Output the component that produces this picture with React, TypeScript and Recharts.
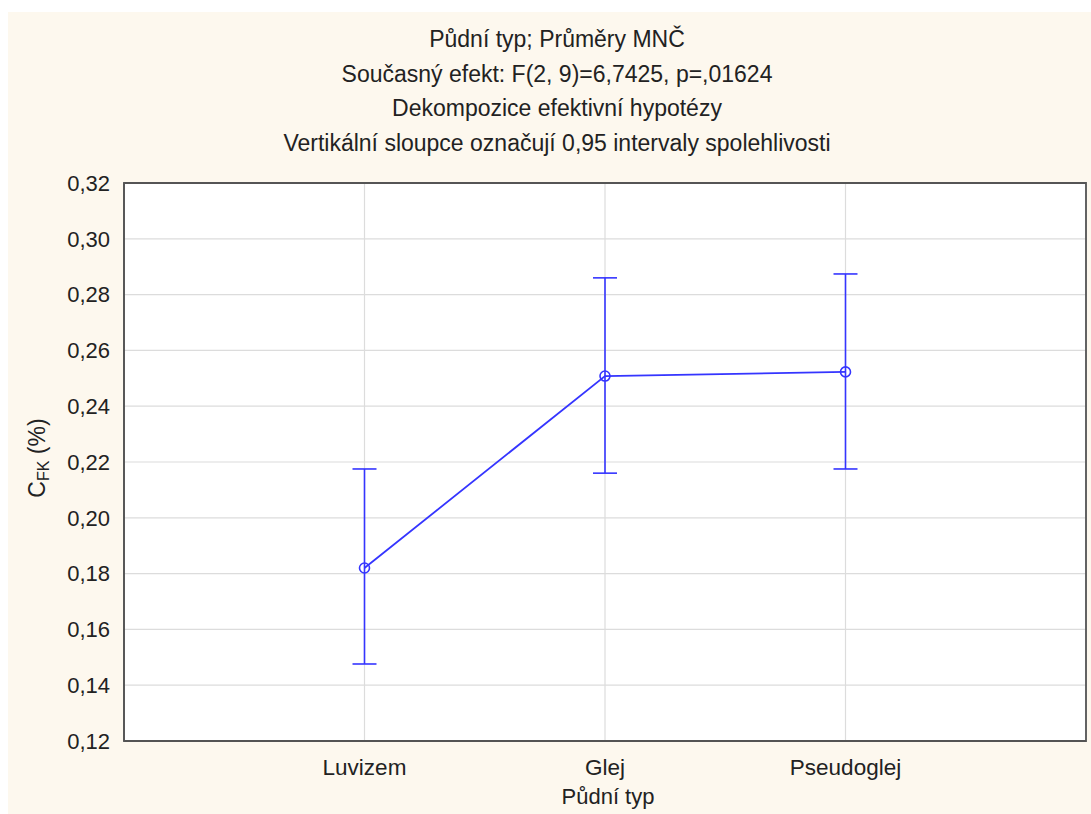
import React from "react";
import {
  ComposedChart,
  Line,
  ErrorBar,
  XAxis,
  YAxis,
  CartesianGrid,
  ReferenceArea,
} from "recharts";

const categories = ["Luvizem", "Glej", "Pseudoglej"];
const means = [0.182, 0.2508, 0.2523];
const lowerCI = [0.1476, 0.216, 0.2175];
const upperCI = [0.2175, 0.286, 0.2874];
const yTicks = [0.12, 0.14, 0.16, 0.18, 0.2, 0.22, 0.24, 0.26, 0.28, 0.3, 0.32];
const titleLines = [
  "Půdní typ; Průměry MNČ",
  "Současný efekt: F(2, 9)=6,7425, p=,01624",
  "Dekompozice efektivní hypotézy",
  "Vertikální sloupce označují 0,95 intervaly spolehlivosti",
];

const data = categories.map((name, i) => ({
  pos: i + 1,
  name,
  mean: means[i],
  ci: [means[i] - lowerCI[i], upperCI[i] - means[i]],
}));

const BLUE = "#3535ff";
const FONT = "'Liberation Sans', Arial, sans-serif";

const OpenDot = (props: any) => {
  const { cx, cy } = props;
  if (cx == null || cy == null) return null;
  return <circle cx={cx} cy={cy} r={5} fill="none" stroke={BLUE} strokeWidth={1.6} />;
};

export default function App() {
  return (
    <div
      style={{
        position: "absolute",
        left: 0,
        top: 0,
        width: 1091,
        height: 814,
        background: "#fff",
        fontFamily: FONT,
        overflow: "hidden",
      }}
    >
      <div
        style={{
          position: "absolute",
          left: 8,
          top: 12,
          width: 1083,
          height: 802,
          background: "#fdf8ee",
        }}
      />
      {titleLines.map((t, i) => (
        <div
          key={t}
          style={{
            position: "absolute",
            left: 0,
            width: 1114,
            top: 39 + i * 34.7 - 14,
            height: 28,
            lineHeight: "28px",
            textAlign: "center",
            fontSize: 23,
            color: "#222",
            whiteSpace: "nowrap",
          }}
        >
          {t}
        </div>
      ))}

      <div style={{ position: "absolute", left: 0, top: 0 }}>
        <ComposedChart
          width={1091}
          height={814}
          data={data}
          margin={{ top: 183, right: 5, left: 64, bottom: 13 }}
        >
          <CartesianGrid fill="#fff" stroke="#dcdcdc" strokeWidth={1.2} />
          <XAxis
            dataKey="pos"
            type="number"
            domain={[0, 4]}
            ticks={[1, 2, 3]}
            tickFormatter={(v: number) => categories[v - 1] ?? ""}
            height={60}
            tickLine={false}
            tickMargin={12}
            axisLine={{ stroke: "#555", strokeWidth: 1.5 }}
            tick={{ fontSize: 22.5, fill: "#222", fontFamily: FONT }}
          />
          <YAxis
            type="number"
            domain={[0.12, 0.32]}
            ticks={yTicks}
            width={60}
            tickLine={false}
            tickMargin={8}
            tickFormatter={(v: number) => v.toFixed(2).replace(".", ",")}
            axisLine={{ stroke: "#555", strokeWidth: 1.5 }}
            tick={{ fontSize: 22, fill: "#222", fontFamily: FONT }}
          />
          <ReferenceArea
            x1={0}
            x2={4}
            y1={0.12}
            y2={0.32}
            fill="none"
            stroke="#555"
            strokeWidth={1.8}
            ifOverflow="visible"
          />
          <Line
            type="linear"
            dataKey="mean"
            stroke={BLUE}
            strokeWidth={1.8}
            dot={<OpenDot />}
            activeDot={false}
            isAnimationActive={false}
          >
            <ErrorBar
              dataKey="ci"
              direction="y"
              width={12}
              stroke={BLUE}
              strokeWidth={1.6}
              isAnimationActive={false}
            />
          </Line>
        </ComposedChart>
      </div>

      <div
        style={{
          position: "absolute",
          left: 37 - 60,
          top: 458 - 14,
          width: 120,
          height: 28,
          lineHeight: "28px",
          textAlign: "center",
          fontSize: 23,
          color: "#222",
          transform: "rotate(-90deg)",
          whiteSpace: "nowrap",
        }}
      >
        C<sub style={{ fontSize: 16, verticalAlign: "-4px", lineHeight: 0 }}>FK</sub> (%)
      </div>
      <div
        style={{
          position: "absolute",
          left: 508,
          width: 200,
          top: 797 - 13,
          height: 26,
          lineHeight: "26px",
          textAlign: "center",
          fontSize: 22,
          color: "#222",
          whiteSpace: "nowrap",
        }}
      >
        Půdní typ
      </div>
    </div>
  );
}
